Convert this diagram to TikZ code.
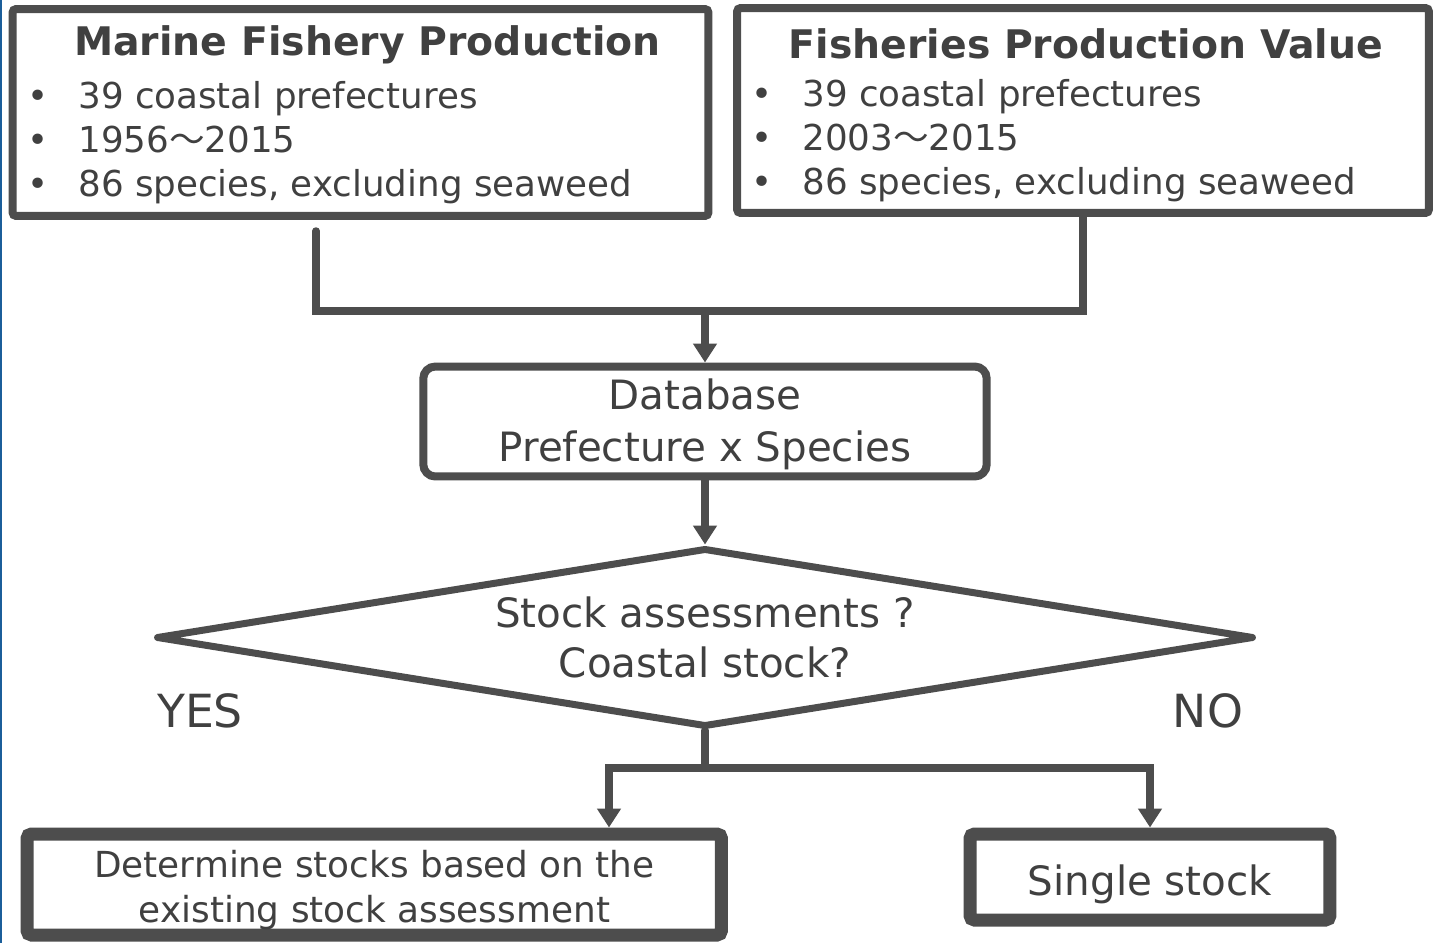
\documentclass[tikz,border=0pt]{standalone}
\usepackage{fontspec}
\setmainfont{DejaVu Sans}
\newfontfamily\jpfont{Noto Sans CJK JP}
\usepackage{xcolor}
\usepackage{tikz}
\usetikzlibrary{positioning, arrows.meta, shapes.geometric, calc}
\definecolor{linegray}{HTML}{4D4D4D}
\definecolor{txtgray}{HTML}{404040}
\definecolor{edgeblue}{HTML}{1B5E9A}
\newcommand{\wave}{{\jpfont ～}}

\begin{document}
\begin{tikzpicture}[
      x=0.02cm, y=-0.02cm,
      box/.style={draw=linegray, line width=0.16cm, rounded corners=2pt,
                  inner sep=0pt},
      endbox/.style={draw=linegray, line width=0.26cm, rounded corners=2.5pt,
                  inner sep=0pt},
      txt/.style={text=txtgray, inner sep=0pt, align=center},
      head/.style={txt, anchor=base, font=\fontsize{22.4}{27}\selectfont\bfseries},
      item/.style={txt, anchor=base west, font=\fontsize{20.3}{25}\selectfont},
      bul/.style={txt, anchor=base, font=\fontsize{20.3}{25}\selectfont},
      conn/.style={draw=linegray, line width=0.15cm, line cap=round},
      arr/.style={conn, -{Triangle[length=0.38cm, width=0.46cm]}},
    ]
    \useasboundingbox (0,0) rectangle (1433,943);
    \fill[edgeblue] (0,0) rectangle (2,943);

    % ── data sources ──
    \node[box, minimum width=13.92cm, minimum height=4.14cm] (mfp) at (360.5,112.5) {};
    \node[head] (mfph) at (367.5,55) {Marine Fishery Production};
    \foreach \t [count=\i] in {39 coastal prefectures, 1956\wave 2015,
                               {86 species, excluding seaweed}} {
      \node[bul] (mfpb\i) at (38,64+44*\i) {•};
      \node[item] (mfpi\i) at (78,64+44*\i) {\t};
    }

    \node[box, minimum width=13.84cm, minimum height=4.1cm] (fpv) at (1083,110.5) {};
    \node[head] (fpvh) at (1086,58) {Fisheries Production Value};
    \foreach \t [count=\i] in {39 coastal prefectures, 2003\wave 2015,
                               {86 species, excluding seaweed}} {
      \node[bul] (fpvb\i) at (762,62+44*\i) {•};
      \node[item] (fpvi\i) at (802,62+44*\i) {\t};
    }

    % ── database ──
    \node[box, rounded corners=0.24cm, minimum width=11.27cm, minimum height=2.2cm]
          (db) at (705,421.5) {};
    \node[txt, font=\fontsize{23}{29.5}\selectfont] (dbt) at (705,424.5)
          {Database\\Prefecture x Species};

    % ── decision ──
    \node[diamond, draw=linegray, line width=0.14cm, line join=round, inner sep=0pt,
          aspect=6.13, minimum width=21.96cm, minimum height=3.58cm,
          txt, font=\fontsize{23}{28.4}\selectfont] (dec) at (705,637.5)
          {Stock assessments ?\\Coastal stock?};
    \node[txt, anchor=base, font=\fontsize{26}{30}\selectfont] (yes) at (200,727) {YES};
    \node[txt, anchor=base, font=\fontsize{26}{30}\selectfont] (no) at (1208,727) {NO};

    % ── outcomes ──
    \node[endbox, minimum width=13.89cm, minimum height=2.02cm] (det) at (374.25,884.5) {};
    \node[txt, font=\fontsize{20.4}{25.5}\selectfont] (dett) at (374.5,890)
          {Determine stocks based on the\\existing stock assessment};
    \node[endbox, minimum width=7.2cm, minimum height=1.72cm] (single) at (1150,877) {};
    \node[txt, font=\fontsize{23}{28}\selectfont] (singlet) at (1150,884) {Single stock};

    % ── connectors ──
    \coordinate (mfpout) at (316,231);
    \coordinate (join) at (705,311);
    \coordinate (split) at (705,768);
    \coordinate (ldrop) at (609,768);

    \draw[conn] (mfpout) |- (join) -| (fpv.south);
    \draw[arr] (join) -- (db.north);
    \draw[arr] (db.south) -- (dec.north);
    \draw[conn] (dec.south) -- (split);
    \draw[arr] (split) -- (ldrop) -- (ldrop |- det.north);
    \draw[arr] (split) -| (single.north);
  \end{tikzpicture}
\end{document}
